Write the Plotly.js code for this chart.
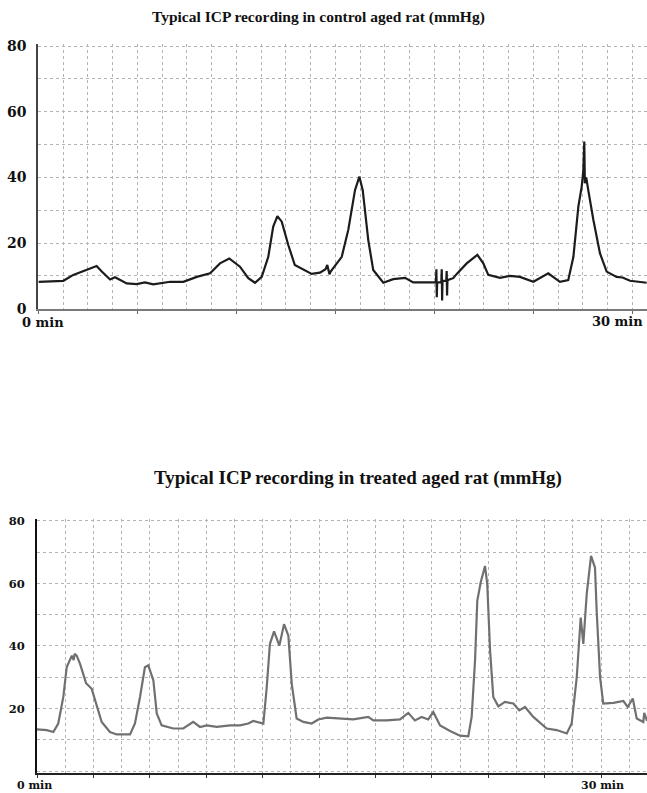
<!DOCTYPE html>
<html>
<head>
<meta charset="utf-8">
<script src="https://cdn.plot.ly/plotly-3.0.1.min.js"></script>
<style>
  html, body { margin: 0; padding: 0; background: #fff; }
  #chart { width: 647px; height: 793px; }
</style>
</head>
<body>
<div id="chart"></div>
<script>
// ---- Data ----
// Control aged rat: time (min) and ICP (mmHg)
const controlTime = [0, 0.6, 1.26, 1.76, 2.44, 2.94, 3.2, 3.62, 3.87, 4.46, 4.96, 5.38, 5.8, 6.65, 7.32, 8.0, 8.67, 9.17, 9.64, 10.18, 10.6, 10.94, 11.28, 11.61, 11.86, 12.07, 12.29, 12.62, 12.95, 13.38, 13.8, 14.22, 14.5, 14.59, 14.7, 14.76, 14.98, 15.32, 15.65, 15.99, 16.21, 16.38, 16.66, 16.91, 17.42, 17.92, 18.52, 18.93, 19.94, 20.08, 20.1, 20.12, 20.14, 20.35, 20.37, 20.39, 20.41, 20.6, 20.62, 20.64, 20.66, 20.95, 21.13, 21.63, 22.17, 22.47, 22.72, 23.31, 23.82, 24.32, 25.0, 25.75, 26.0, 26.34, 26.76, 27.02, 27.27, 27.44, 27.52, 27.57, 27.6, 27.67, 27.77, 28.03, 28.36, 28.7, 29.2, 29.5, 29.88, 30.72];
const controlICP  = [8.2, 8.3, 8.5, 10.3, 11.8, 13.0, 11.3, 8.9, 9.6, 7.7, 7.5, 8.0, 7.4, 8.2, 8.2, 9.7, 10.8, 13.8, 15.3, 12.8, 9.3, 7.9, 9.7, 15.8, 25.0, 28.2, 26.5, 19.4, 13.3, 12.0, 10.6, 11.0, 12.0, 13.3, 10.5, 11.3, 13.0, 15.8, 24.0, 36.1, 40.2, 36.1, 20.9, 11.8, 7.9, 9.0, 9.4, 8.0, 8.0, 8.0, 12.0, 3.5, 8.0, 8.0, 12.0, 2.5, 8.5, 8.5, 11.5, 4.0, 8.7, 9.3, 10.6, 13.8, 16.4, 13.8, 10.3, 9.4, 10.0, 9.7, 8.2, 10.8, 9.7, 8.2, 8.7, 15.8, 31.1, 37.2, 42.0, 50.9, 38.2, 40.0, 36.1, 27.0, 16.9, 11.3, 9.7, 9.5, 8.5, 7.9];

// Treated aged rat: time (min) and ICP (mmHg)
const treatedTime = [0, 0.52, 0.87, 1.13, 1.40, 1.58, 1.85, 1.95, 2.0, 2.11, 2.29, 2.61, 2.91, 3.18, 3.44, 3.88, 4.24, 4.95, 5.21, 5.48, 5.74, 5.92, 6.19, 6.37, 6.63, 7.25, 7.78, 8.31, 8.67, 9.03, 9.56, 10.27, 10.8, 11.24, 11.5, 12.04, 12.22, 12.39, 12.61, 12.89, 13.14, 13.37, 13.55, 13.81, 14.17, 14.61, 14.96, 15.41, 16.12, 16.82, 17.62, 17.89, 18.6, 19.31, 19.75, 20.1, 20.46, 20.81, 21.08, 21.44, 21.97, 22.5, 22.94, 23.12, 23.3, 23.42, 23.6, 23.83, 23.95, 24.1, 24.27, 24.54, 24.89, 25.34, 25.65, 25.96, 26.4, 27.11, 27.64, 28.18, 28.44, 28.71, 28.92, 29.06, 29.24, 29.47, 29.68, 29.77, 29.95, 30.12, 30.66, 31.19, 31.42, 31.69, 31.9, 32.25, 32.3, 32.45];
const treatedICP  = [13.3, 13.1, 12.5, 15.2, 23.7, 33.2, 36.9, 35.5, 37.5, 36.9, 34.3, 28.1, 26.3, 20.5, 15.7, 12.5, 11.7, 11.7, 15.2, 23.7, 33.2, 33.8, 29.0, 18.4, 14.6, 13.6, 13.6, 15.7, 14.1, 14.6, 14.1, 14.6, 14.6, 15.2, 16.0, 15.2, 26.8, 40.7, 44.7, 40.1, 47.0, 43.3, 27.9, 16.8, 15.7, 15.2, 16.5, 17.1, 16.8, 16.5, 17.3, 16.2, 16.2, 16.5, 18.6, 16.2, 17.3, 16.5, 18.9, 14.6, 12.8, 11.3, 11.1, 17.3, 35.4, 54.5, 60.3, 65.6, 59.8, 38.5, 23.7, 20.7, 22.1, 21.6, 19.4, 20.5, 17.3, 13.6, 13.1, 12.0, 15.2, 30.0, 49.1, 40.7, 56.6, 68.8, 65.1, 51.3, 30.0, 21.6, 21.8, 22.4, 20.5, 23.2, 16.8, 15.7, 18.6, 16.0];

// Tick labels and titles
const topTitle = "Typical ICP recording in control aged rat (mmHg)";
const bottomTitle = "Typical ICP recording in treated aged rat (mmHg)";
const topYTicks = [0, 20, 40, 60, 80];
const bottomYTicks = [20, 40, 60, 80];
const topXTicks = [0, 5, 10, 15, 20, 25, 30];
const bottomXTicks = [0, 3, 6, 9, 12, 15, 18, 21, 24, 27, 30];
const xStartLabel = "0 min";
const xEndLabel = "30 min";

// ---- Layout helpers ----
const W = 647, H = 793;
const px = v => v / W;
const py = v => 1 - v / H;
const gridCol = '#b4b4b4';
const boldSerif = (size, color) => ({ family: 'DejaVu Serif', size: size, color: color || '#111', weight: 'bold' });

const traces = [
  { x: controlTime, y: controlICP, type: 'scatter', mode: 'lines',
    line: { color: '#1c1c1c', width: 2.2 }, xaxis: 'x', yaxis: 'y', hoverinfo: 'skip' },
  { x: treatedTime, y: treatedICP, type: 'scatter', mode: 'lines',
    line: { color: '#707070', width: 2.2 }, xaxis: 'x2', yaxis: 'y2', hoverinfo: 'skip' }
];

const layout = {
  width: W, height: H,
  margin: { l: 0, r: 0, t: 0, b: 0, pad: 0 },
  paper_bgcolor: '#fff', plot_bgcolor: '#fff',
  showlegend: false,
  xaxis: {
    domain: [px(38.4), 1], range: [0, (W - 38.4) / 19.8], anchor: 'y',
    tickmode: 'array', tickvals: topXTicks, showticklabels: false,
    ticks: 'outside', ticklen: 3, tickcolor: '#666', tickwidth: 1,
    showgrid: true, gridcolor: gridCol, griddash: 'dot', gridwidth: 1,
    minor: { dtick: 1.25, tick0: 0, showgrid: true, gridcolor: gridCol, griddash: 'dot', gridwidth: 1, ticks: '' },
    showline: true, linecolor: '#7a7a7a', linewidth: 2, zeroline: false, fixedrange: true
  },
  yaxis: {
    domain: [py(308.7), py(44.4)], range: [0, 80.5], anchor: 'x',
    tickmode: 'array', tickvals: topYTicks,
    tickfont: boldSerif(14), ticks: '', ticklabelstandoff: 7,
    showgrid: true, gridcolor: gridCol, griddash: 'dot', gridwidth: 1,
    minor: { dtick: 10, tick0: 0, showgrid: true, gridcolor: gridCol, griddash: 'dot', gridwidth: 1, ticks: '' },
    showline: true, linecolor: '#444', linewidth: 2, zeroline: false, fixedrange: true
  },
  xaxis2: {
    domain: [px(37), 1], range: [0, (W - 37) / 18.8], anchor: 'y2',
    tickmode: 'array', tickvals: bottomXTicks, showticklabels: false,
    ticks: 'outside', ticklen: 3, tickcolor: '#333', tickwidth: 1,
    showgrid: true, gridcolor: gridCol, griddash: 'dot', gridwidth: 1,
    minor: { dtick: 1.5, tick0: 0, showgrid: true, gridcolor: gridCol, griddash: 'dot', gridwidth: 1, ticks: '' },
    showline: true, linecolor: '#222', linewidth: 2, zeroline: false, fixedrange: true
  },
  yaxis2: {
    domain: [py(772.9), py(519.4)], range: [-0.6, 80.5], anchor: 'x2',
    tickmode: 'array', tickvals: bottomYTicks,
    tickfont: boldSerif(11.5), ticks: '', ticklabelstandoff: 8,
    showgrid: true, gridcolor: gridCol, griddash: 'dot', gridwidth: 1,
    minor: { dtick: 10, tick0: 0, showgrid: true, gridcolor: gridCol, griddash: 'dot', gridwidth: 1, ticks: '' },
    showline: true, linecolor: '#111', linewidth: 2, zeroline: false, fixedrange: true
  },
  annotations: [
    { text: topTitle, xref: 'paper', yref: 'paper', x: px(318), y: py(17), xanchor: 'center', yanchor: 'middle',
      showarrow: false, font: { family: 'Liberation Serif', size: 15.5, color: '#111', weight: 'bold' } },
    { text: bottomTitle, xref: 'paper', yref: 'paper', x: px(357.5), y: py(478), xanchor: 'center', yanchor: 'middle',
      showarrow: false, font: { family: 'Liberation Serif', size: 19, color: '#111', weight: 'bold' } },
    { text: xStartLabel, xref: 'x', yref: 'paper', x: 0, y: py(322.7), xanchor: 'center', yanchor: 'middle', xshift: 5,
      showarrow: false, font: boldSerif(13) },
    { text: xEndLabel, xref: 'x', yref: 'paper', x: 30, y: py(321), xanchor: 'center', yanchor: 'middle', xshift: -15,
      showarrow: false, font: boldSerif(13) },
    { text: xStartLabel, xref: 'x2', yref: 'paper', x: 0, y: py(785), xanchor: 'center', yanchor: 'middle', xshift: -3,
      showarrow: false, font: boldSerif(11) },
    { text: xEndLabel, xref: 'x2', yref: 'paper', x: 30, y: py(785), xanchor: 'center', yanchor: 'middle', xshift: 1,
      showarrow: false, font: boldSerif(11) }
  ]
};

Plotly.newPlot('chart', traces, layout, { staticPlot: true, displayModeBar: false });
</script>
</body>
</html>
